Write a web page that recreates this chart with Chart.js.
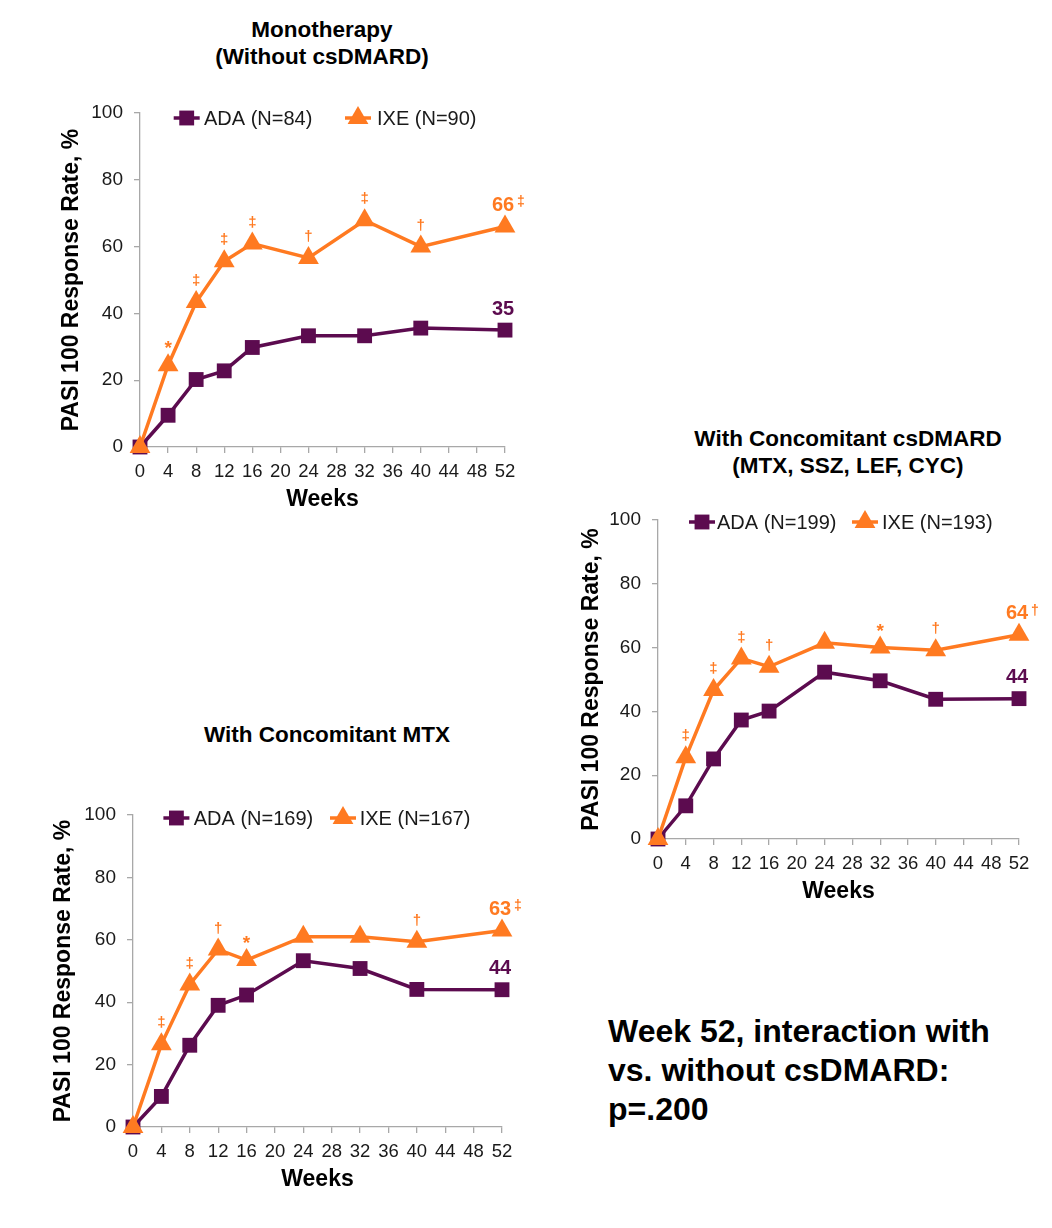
<!DOCTYPE html>
<html>
<head>
<meta charset="utf-8">
<title>PASI 100 Response Rate by csDMARD use</title>
<script src="https://cdn.jsdelivr.net/npm/chart.js@4/dist/chart.umd.min.js"></script>
<style>
  html, body { margin: 0; padding: 0; background: #fff; }
  body { width: 1052px; height: 1228px; position: relative; overflow: hidden;
         font-family: "Liberation Sans", Arial, sans-serif; }
  canvas { position: absolute; }
  .ttl { position: absolute; width: 440px; text-align: center; font-weight: bold;
         font-size: 22.5px; line-height: 27px; color: #000; }
  .note { position: absolute; left: 608px; top: 1012px; font-weight: bold;
          font-size: 32px; line-height: 39px; color: #000; white-space: nowrap; }
</style>
</head>
<body>
<div class="ttl" style="left:102px;top:16px">Monotherapy<br>(Without csDMARD)</div>
<div class="ttl" style="left:628px;top:425px">With Concomitant csDMARD<br>(MTX, SSZ, LEF, CYC)</div>
<div class="ttl" style="left:107px;top:721px">With Concomitant MTX</div>
<div class="note">Week 52, interaction with<br>vs. without csDMARD:<br>p=.200</div>

<canvas id="mono" width="500" height="420" style="left:40px;top:95px"></canvas>
<canvas id="dmard" width="490" height="405" style="left:560px;top:500px"></canvas>
<canvas id="mtx" width="510" height="400" style="left:30px;top:795px"></canvas>

<script>
// Visit weeks and axis tick values
const WEEKS = [0, 4, 8, 12, 16, 24, 32, 40, 52];
const WEEK_TICKS = [0, 4, 8, 12, 16, 20, 24, 28, 32, 36, 40, 44, 48, 52];
const RATE_TICKS = [0, 20, 40, 60, 80, 100];

// Monotherapy (without csDMARD)
const MONO_ADA = [0, 9.5, 20.2, 22.8, 29.8, 33.3, 33.3, 35.6, 35];
const MONO_IXE = [0, 24.5, 43.4, 55.6, 60.9, 56.6, 67.9, 60.0, 66];
const MONO_SIG = ['', '*', '‡', '‡', '‡', '†', '‡', '†', '‡'];
const MONO_LEGEND = ['ADA (N=84)', 'IXE (N=90)'];

// With concomitant csDMARD (MTX, SSZ, LEF, CYC)
const DMARD_ADA = [0, 10.4, 25.1, 37.3, 40.1, 52.3, 49.6, 43.8, 44];
const DMARD_IXE = [0, 25.6, 46.7, 56.6, 54.0, 61.5, 60.0, 59.2, 64];
const DMARD_SIG = ['', '‡', '‡', '‡', '†', '', '*', '†', '†'];
const DMARD_LEGEND = ['ADA (N=199)', 'IXE (N=193)'];

// With concomitant MTX
const MTX_ADA = [0, 9.8, 26.2, 39.0, 42.3, 53.3, 50.8, 44.1, 44];
const MTX_IXE = [0, 26.5, 45.7, 56.9, 53.5, 61.0, 61.0, 59.4, 63];
const MTX_SIG = ['', '‡', '‡', '†', '*', '', '', '†', '‡'];
const MTX_LEGEND = ['ADA (N=169)', 'IXE (N=167)'];

const PURPLE = '#5C0B4F';
const ORANGE = '#FF7A21';
const AXIS = '#A8A8A8';
const INK = '#1a1a1a';
const FONT = '"Liberation Sans", Arial, sans-serif';

// Significance marks, end-of-study values and the series key
function overlay(cfg) {
  return {
    id: 'overlay',
    afterDatasetsDraw(chart) {
      const { ctx, chartArea } = chart;
      const xs = chart.scales.x, ys = chart.scales.y;
      const last = WEEKS.length - 1;
      ctx.save();

      ctx.fillStyle = ORANGE;
      ctx.textAlign = 'center';
      ctx.textBaseline = 'middle';
      WEEKS.forEach((w, i) => {
        const s = cfg.sig[i];
        if (!s || i === last) return;
        const px = xs.getPixelForValue(w);
        const py = ys.getPixelForValue(cfg.ixe[i]);
        if (s === '*') {
          ctx.font = `bold 19px ${FONT}`;
          ctx.fillText(s, px, py - 16);
        } else {
          ctx.font = `bold 15px ${FONT}`;
          ctx.fillText(s, px, py - 21);
        }
      });

      [[cfg.ada, PURPLE, ''], [cfg.ixe, ORANGE, cfg.sig[last]]].forEach(([vals, col, mark]) => {
        const v = vals[last];
        const px = xs.getPixelForValue(WEEKS[last]) - 2;
        const py = ys.getPixelForValue(v) - 21;
        const txt = String(Math.round(v));
        ctx.font = `bold 20px ${FONT}`;
        ctx.fillStyle = col;
        ctx.textAlign = 'center';
        ctx.fillText(txt, px, py);
        if (mark) {
          const w = ctx.measureText(txt).width;
          ctx.font = `bold 14px ${FONT}`;
          ctx.textAlign = 'left';
          ctx.fillText(mark, px + w / 2 + 3, py - 3);
        }
      });

      // series key
      const ky = chartArea.top + cfg.key.dy;
      const entries = [
        { label: cfg.legend[0], col: PURPLE, style: 'rect', r: 10.5, k: cfg.key.ada },
        { label: cfg.legend[1], col: ORANGE, style: 'triangle', r: 12, k: cfg.key.ixe }
      ];
      entries.forEach(e => {
        const mx = chartArea.left + e.k[0];
        ctx.strokeStyle = e.col;
        ctx.lineWidth = 3.5;
        ctx.beginPath();
        ctx.moveTo(mx - 13, ky);
        ctx.lineTo(mx + 13, ky);
        ctx.stroke();
        ctx.fillStyle = e.col;
        Chart.helpers.drawPoint(ctx, { pointStyle: e.style, radius: e.r, rotation: 0, borderWidth: 0 }, mx, ky);
        ctx.fillStyle = INK;
        ctx.font = `20px ${FONT}`;
        ctx.textAlign = 'left';
        ctx.textBaseline = 'middle';
        ctx.fillText(e.label, chartArea.left + e.k[1], ky + 1);
      });
      ctx.restore();
    }
  };
}

function axisStyle() {
  return {
    grid: { drawOnChartArea: false, drawTicks: true, tickLength: 6, color: AXIS, lineWidth: 1.3 },
    border: { display: true, color: AXIS, width: 1.3 }
  };
}

function makeChart(id, cfg) {
  const pts = vals => WEEKS.map((w, i) => ({ x: w, y: vals[i] }));
  return new Chart(document.getElementById(id), {
    type: 'line',
    data: {
      datasets: [
        {
          label: cfg.legend[1], data: pts(cfg.ixe), order: 0,
          borderColor: ORANGE, backgroundColor: ORANGE, borderWidth: 3.5,
          pointStyle: 'triangle', pointRadius: 12, pointBorderWidth: 0,
          pointBackgroundColor: ORANGE, tension: 0, clip: false
        },
        {
          label: cfg.legend[0], data: pts(cfg.ada), order: 1,
          borderColor: PURPLE, backgroundColor: PURPLE, borderWidth: 3.5,
          pointStyle: 'rect', pointRadius: 10.5, pointBorderWidth: 0,
          pointBackgroundColor: PURPLE, tension: 0, clip: false
        }
      ]
    },
    options: {
      responsive: false,
      animation: false,
      events: [],
      layout: { padding: { left: 0, top: cfg.padTop, right: cfg.padRight, bottom: 0 } },
      plugins: { legend: { display: false }, tooltip: { enabled: false }, title: { display: false } },
      scales: {
        x: Object.assign(axisStyle(), {
          type: 'linear', min: 0, max: 52,
          afterBuildTicks: s => { s.ticks = WEEK_TICKS.map(v => ({ value: v })); },
          afterFit: s => { s.height = cfg.xH; s.paddingLeft = 0; s.paddingRight = 0; },
          ticks: { autoSkip: false, maxRotation: 0, padding: 8, color: INK, font: { family: FONT, size: 18.5 } },
          title: { display: true, text: 'Weeks', color: '#000',
                   font: { family: FONT, size: 23, weight: 'bold' }, padding: { top: 0, bottom: cfg.xTitlePad } }
        }),
        y: Object.assign(axisStyle(), {
          type: 'linear', min: 0, max: 100,
          afterBuildTicks: s => { s.ticks = RATE_TICKS.map(v => ({ value: v })); },
          afterFit: s => { s.width = cfg.yW; s.paddingTop = 0; s.paddingBottom = 0; },
          ticks: { padding: 11, color: INK, font: { family: FONT, size: 19 } },
          title: { display: true, text: 'PASI 100 Response Rate, %', color: '#000',
                   font: { family: FONT, size: 23, weight: 'bold' }, padding: { top: cfg.yTitlePad, bottom: 0 } }
        })
      }
    },
    plugins: [overlay(cfg)]
  });
}

makeChart('mono', {
  ada: MONO_ADA, ixe: MONO_IXE, sig: MONO_SIG, legend: MONO_LEGEND,
  padTop: 18, padRight: 35, yW: 100, xH: 68, xTitlePad: 1.5, yTitlePad: 18,
  key: { dy: 5, ada: [46.7, 64], ixe: [218, 237] }
});

makeChart('dmard', {
  ada: DMARD_ADA, ixe: DMARD_IXE, sig: DMARD_SIG, legend: DMARD_LEGEND,
  padTop: 20, padRight: 31, yW: 98, xH: 66, xTitlePad: 0, yTitlePad: 18,
  key: { dy: 2, ada: [44, 59], ixe: [207, 224] }
});

makeChart('mtx', {
  ada: MTX_ADA, ixe: MTX_IXE, sig: MTX_SIG, legend: MTX_LEGEND,
  padTop: 20, padRight: 38, yW: 103, xH: 68, xTitlePad: 2, yTitlePad: 19.5,
  key: { dy: 3, ada: [43.4, 60.7], ixe: [210, 226.7] }
});
</script>
</body>
</html>
